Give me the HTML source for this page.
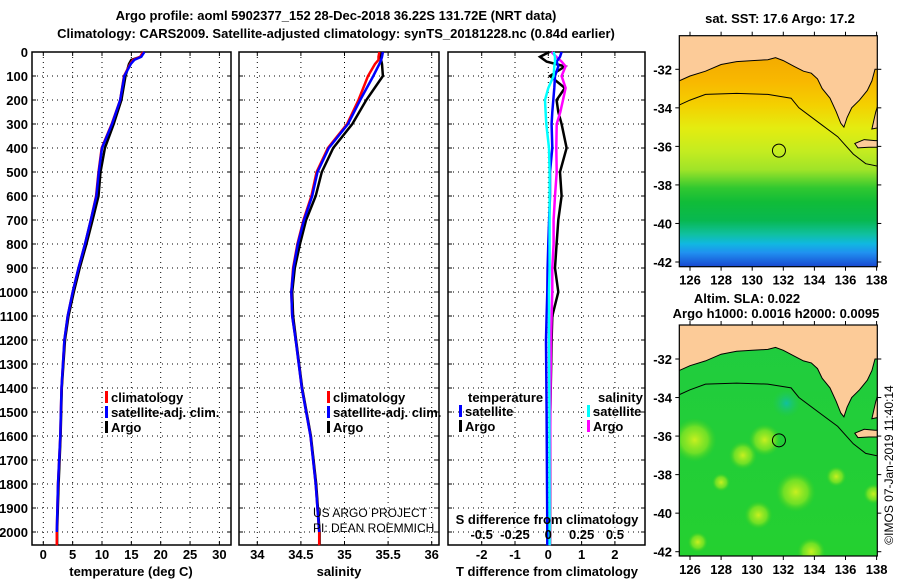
<!DOCTYPE html>
<html><head><meta charset="utf-8"><style>
body{margin:0;background:#fff}
svg{display:block;font-family:"Liberation Sans",sans-serif}
.b{font-weight:bold;font-size:13px}
.n{font-size:12px}
</style></head><body>
<svg id="c" width="900" height="580" viewBox="0 0 900 580"></svg>
<script>
// ---------- data ----------
const depths = [0,20,33,50,100,200,300,400,500,600,700,800,900,1000,1100,1200,1400,1600,1800,2000,2055];
const tempClim = [17.0,16.5,15.3,14.8,13.75,13.1,11.65,9.95,9.4,9.0,8.1,7.1,6.0,5.0,4.15,3.6,3.1,2.9,2.5,2.3,2.3];
const tempSat  = [17.2,16.7,15.5,14.9,13.8,13.1,11.7,10.0,9.45,9.05,8.1,7.1,6.0,5.0,4.15,3.6,3.1,2.9,2.5,2.3,2.3];
const tempArgo = [17.2,16.6,15.0,14.6,14.0,13.3,12.0,10.5,9.75,9.4,8.4,7.35,6.2,5.2,4.3,3.7,3.15,2.95,2.6,2.35,2.35];
const salClim = [35.40,35.39,35.39,35.35,35.27,35.16,35.03,34.81,34.68,34.62,34.53,34.46,34.41,34.39,34.40,34.44,34.51,34.61,34.67,34.71,34.71];
const salSat  = [35.44,35.43,35.42,35.40,35.33,35.18,35.04,34.82,34.69,34.63,34.535,34.465,34.415,34.39,34.40,34.44,34.51,34.61,34.67,34.71,34.71];
const salArgo = [35.41,35.41,35.42,35.43,35.44,35.25,35.09,34.87,34.74,34.67,34.56,34.49,34.43,34.40,34.41,34.445,34.515,34.615,34.675,34.715,34.715];
const diffDepths = [0,20,40,60,100,150,200,250,300,400,500,600,700,800,900,1000,1100,1200,1500,2000,2055];
const dTArgo = [0.03,-0.25,-0.05,0.5,0.05,0.5,0.25,0.3,0.4,0.55,0.35,0.4,0.3,0.25,0.2,0.3,0.12,0.1,0.06,0.05,0.05];
const dTSat  = [0.4,0.35,0.25,0.3,0.2,0.18,0.15,0.12,0.1,0.12,0.05,0.05,0.025,0.0,-0.02,-0.03,-0.05,-0.07,-0.05,-0.03,-0.03];
const dSArgo = [0.025,0.06,0.1,0.13,0.1,0.13,0.11,0.09,0.063,0.06,0.063,0.05,0.04,0.04,0.03,0.03,0.025,0.02,0.015,0.012,0.012];
const dSSat  = [0.04,0.05,0.05,0.045,0.04,0.0,-0.025,-0.02,-0.015,0.005,0.01,0.01,0.01,0.01,0.01,0.005,0.005,0.005,0.008,0.01,0.01];
const depthTicks = [0,100,200,300,400,500,600,700,800,900,1000,1100,1200,1300,1400,1500,1600,1700,1800,1900,2000];
const tempTicks = [0,5,10,15,20,25,30];
const salTicks = [34,34.5,35,35.5,36];
const dTTicks = [-2,-1,0,1,2];
const dSTicks = [-0.5,-0.25,0,0.25,0.5];
const lonTicks = [126,128,130,132,134,136,138];
const latTicks = [-32,-34,-36,-38,-40,-42];
const argoLon = 131.72, argoLat = -36.22;

// ---------- helpers ----------
const svg = document.getElementById('c');
const NS = 'http://www.w3.org/2000/svg';
function mk(tag, attrs, parent){const e=document.createElementNS(NS,tag);for(const k in attrs)e.setAttribute(k,attrs[k]);(parent||svg).appendChild(e);return e;}
function txt(s,x,y,anchor,cls,parent){const t=mk('text',{x:x,y:y,'text-anchor':anchor||'start','class':(cls===undefined?'b':cls)},parent);t.textContent=s;return t;}
const Y0=52, Y1=545;
const yD = d => Y0 + d*0.24;
const xT = t => 43.3 + t*5.87;
const xS = s => 257.3 + (s-34)*87.2;
const xdT = t => 548.3 + t*33.3;
const xdS = s => 548.3 + s*133.3;

function panel(name,x0,x1,ticks,fx,labels){
  const g=mk('g',{});
  
  
  depthTicks.forEach(d=>{ if(d>0) mk('line',{x1:x0,x2:x1,y1:yD(d),y2:yD(d),stroke:'#000','stroke-width':1,'stroke-dasharray':'1,4'},g);
    mk('line',{x1:x0,x2:x0+4,y1:yD(d),y2:yD(d),stroke:'#000'},g); mk('line',{x1:x1-4,x2:x1,y1:yD(d),y2:yD(d),stroke:'#000'},g);});
  ticks.forEach(v=>{const x=fx(v); mk('line',{x1:x,x2:x,y1:Y0,y2:Y1,stroke:'#000','stroke-dasharray':'1,4'},g);
    mk('line',{x1:x,x2:x,y1:Y0,y2:Y0+4,stroke:'#000'},g);mk('line',{x1:x,x2:x,y1:Y1-4,y2:Y1,stroke:'#000'},g);
    if(labels) txt(String(v),x,559,'middle','b',g);});
  mk('rect',{x:x0,y:Y0,width:x1-x0,height:Y1-Y0,fill:'none',stroke:'#000','stroke-width':1.5},g);
  return g;
}
function series(name,vals,ds,fx,color,w){
  const p=mk('polyline',{points:vals.map((v,i)=>fx(v).toFixed(1)+','+yD(ds[i]).toFixed(1)).join(' '),fill:'none',stroke:color,'stroke-width':w||2.5,'stroke-linejoin':'miter'});
  
  
}
function legItem(name,x,y,color,label){
  const g=mk('g',{});
  
  
  mk('rect',{x:x,y:y-11,width:3,height:12,fill:color},g);
  txt(label,x+6,y,'start','b',g);
}

// ---------- titles ----------
txt('Argo profile: aoml 5902377_152 28-Dec-2018 36.22S 131.72E (NRT data)',336,20,'middle');
txt('Climatology: CARS2009. Satellite-adjusted climatology: synTS_20181228.nc (0.84d earlier)',336,38,'middle');

depthTicks.forEach(d=>{const t=txt(String(d),28,yD(d)+5,'end');
});

// ---------- temperature panel ----------
panel('temperature-panel',32,231,tempTicks,xT,true);
series('temp-argo-line',tempArgo,depths,xT,'#000');
series('temp-climatology-line',tempClim,depths,xT,'#f00');
series('temp-satellite-line',tempSat.slice(0,-1),depths.slice(0,-1),xT,'#00f');
txt('temperature (deg C)',131,576,'middle');
legItem('legend-climatology',105,402,'#f00','climatology');
legItem('legend-satellite-adj',105,417,'#00f','satellite-adj. clim.');
legItem('legend-argo',105,432,'#000','Argo');

// ---------- salinity panel ----------
panel('salinity-panel',239,439,salTicks,xS,true);
series('sal-argo-line',salArgo,depths,xS,'#000');
series('sal-climatology-line',salClim,depths,xS,'#f00');
series('sal-satellite-line',salSat.slice(0,-1),depths.slice(0,-1),xS,'#00f');
txt('salinity',339,576,'middle');
legItem('legend-climatology-s',327,402,'#f00','climatology');
legItem('legend-satellite-adj-s',327,417,'#00f','satellite-adj. clim.');
legItem('legend-argo-s',327,432,'#000','Argo');
const c1=txt('US ARGO PROJECT',313,517,'start','n');
const c2=txt('PI: DEAN ROEMMICH',313,532,'start','n');

// ---------- difference panel ----------
panel('difference-panel',448,645,dTTicks,xdT,true);
series('dT-argo-line',dTArgo,diffDepths,xdT,'#000');
series('dS-argo-line',dSArgo,diffDepths,xdS,'#f0f');
series('dT-satellite-line',dTSat,diffDepths,xdT,'#00f');
series('dS-satellite-line',dSSat,diffDepths,xdS,'#0ff');
dSTicks.forEach(v=>{const t=txt(String(v),xdS(v),539,'middle');});
txt('S difference from climatology',547,524,'middle');
txt('T difference from climatology',547,576,'middle');
txt('temperature',468,402,'start');
legItem('legend-t-satellite',459,416,'#00f','satellite');
legItem('legend-t-argo',459,431,'#000','Argo');
txt('salinity',598,402,'start');
legItem('legend-s-satellite',587,416,'#0ff','satellite');
legItem('legend-s-argo',587,431,'#f0f','Argo');

// ---------- maps ----------
const coast=[[125.3,-32.6],[126,-32.35],[127,-32.1],[128,-31.75],[129,-31.6],[130,-31.55],[131,-31.5],[131.5,-31.4],[132,-31.55],[132.7,-31.85],[133.3,-32.1],[133.8,-32.2],[134.2,-32.5],[134.5,-33.0],[135.0,-33.5],[135.4,-34.2],[135.7,-34.8],[135.9,-35.0],[136.1,-34.5],[136.4,-34.0],[136.9,-33.6],[137.4,-33.1],[137.7,-32.6],[137.9,-32.0],[138.3,-32.0],[138.3,-29],[125.3,-29]];
const yorke=[[138.3,-33.3],[137.95,-34.2],[137.7,-35.1],[138.3,-35.0]];
const kangaroo=[[136.6,-35.85],[137.2,-35.65],[137.9,-35.7],[138.3,-35.7],[138.3,-36.05],[137.5,-36.05],[136.8,-36.08]];
const contour=[[125.3,-33.86],[126,-33.6],[127,-33.3],[129,-33.25],[131,-33.3],[132.5,-33.5],[133,-34.0],[134.5,-34.9],[135.5,-35.5],[136.5,-36.4],[137.3,-36.9],[138.2,-37.05]];
function map(name,yTop,yLat32,fillId,isSST){
  const g=mk('g',{});
  
  
  const X0=679.3,X1=877.3,H=231;
  const px=lon=>690+(lon-126)*15.55, py=lat=>yLat32+(-32-lat)*19.27;
  const cid=name+'-clip';
  const cp=mk('clipPath',{id:cid},g); mk('rect',{x:X0,y:yTop,width:X1-X0,height:H},cp);
  const inner=mk('g',{'clip-path':'url(#'+cid+')'},g);
  mk('rect',{x:X0,y:yTop,width:X1-X0,height:H,fill:'url(#'+fillId+')'},inner);
  if(!isSST){
    const blobs=[[126.3,-36.2,22],[130.8,-36.2,16],[129.4,-37.0,14],[132.8,-38.9,20],[130.4,-40.1,14],[133.8,-42,14],[135.4,-38.1,10],[128.0,-38.4,9],[137.8,-39,10],[126.5,-41.5,10]];
    blobs.forEach(b=>mk('circle',{cx:px(b[0]),cy:py(b[1]),r:b[2],fill:'url(#blob)'},inner));
    mk('ellipse',{cx:px(132.2),cy:py(-34.3),rx:14,ry:14,fill:'url(#tealblob)'},inner);
  }
  const pp=a=>a.map(p=>px(p[0]).toFixed(1)+','+py(p[1]).toFixed(1)).join(' ');
  mk('polyline',{points:pp(contour),fill:'none',stroke:'#000','stroke-width':1},inner);
  [coast,yorke,kangaroo].forEach(a=>mk('polygon',{points:pp(a),fill:'#fccb98',stroke:'#000','stroke-width':1},inner));
  const mkr=mk('circle',{cx:px(argoLon),cy:py(argoLat),r:6.5,fill:'none',stroke:'#000','stroke-width':1},g);
  
  
  mk('rect',{x:X0,y:yTop,width:X1-X0,height:H,fill:'none',stroke:'#000','stroke-width':1.2},g);
  lonTicks.forEach(l=>{mk('line',{x1:px(l),x2:px(l),y1:yTop+H,y2:yTop+H+4,stroke:'#000'},g);mk('line',{x1:px(l),x2:px(l),y1:yTop,y2:yTop-4,stroke:'#000'},g);txt(String(l),px(l),yTop+H+18,'middle','b',g);});
  latTicks.forEach(l=>{mk('line',{x1:X0-4,x2:X0,y1:py(l),y2:py(l),stroke:'#000'},g);mk('line',{x1:X1,x2:X1+4,y1:py(l),y2:py(l),stroke:'#000'},g);txt(String(l),672,py(l)+5,'end','b',g);});
}
const defs=mk('defs',{});
const sst=mk('linearGradient',{id:'sstg',x1:0,y1:0,x2:0,y2:1},defs);
[[0,'#f0a000'],[0.2,'#f8b800'],[0.3,'#f4d000'],[0.4,'#e4ec10'],[0.5,'#c4ec20'],[0.58,'#a0e428'],[0.66,'#30c830'],[0.72,'#10bc38'],[0.8,'#08b850'],[0.86,'#10c0a0'],[0.9,'#10b8e0'],[0.94,'#2090f0'],[1,'#1848d0']].forEach(s=>mk('stop',{offset:s[0],'stop-color':s[1]},sst));
const alt=mk('linearGradient',{id:'altg',x1:0,y1:0,x2:0,y2:1},defs);
[[0,'#20cc40'],[1,'#24d030']].forEach(s=>mk('stop',{offset:s[0],'stop-color':s[1]},alt));
const bl=mk('radialGradient',{id:'blob'},defs);
mk('stop',{offset:0,'stop-color':'#c8f020','stop-opacity':1},bl);mk('stop',{offset:0.6,'stop-color':'#90e820','stop-opacity':0.7},bl);mk('stop',{offset:1,'stop-color':'#40d020','stop-opacity':0},bl);
const tb=mk('radialGradient',{id:'tealblob'},defs);
mk('stop',{offset:0,'stop-color':'#10c0a0','stop-opacity':1},tb);mk('stop',{offset:1,'stop-color':'#20c860','stop-opacity':0},tb);

map('sst-map',35.7,69.3,'sstg',true);
map('sla-map',325,359,'altg',false);
txt('sat. SST: 17.6 Argo: 17.2',780,23,'middle');
txt('Altim. SLA: 0.022',747,303,'middle');
txt('Argo h1000: 0.0016 h2000: 0.0095',776,318,'middle');
const im=txt('©IMOS 07-Jan-2019 11:40:14',0,0,'middle','n');
im.setAttribute('font-size','13');
im.setAttribute('transform','translate(893,465) rotate(-90)');

</script>
</body></html>
